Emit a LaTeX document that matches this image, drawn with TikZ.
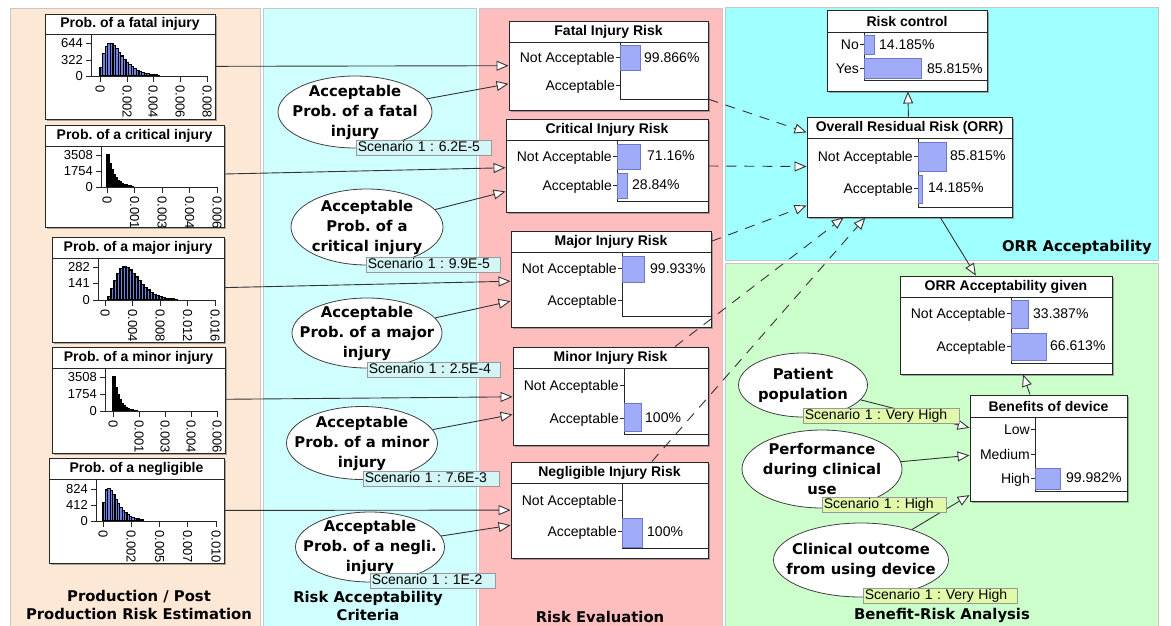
\documentclass[tikz,border=0pt]{standalone}
\usepackage{fontspec}
\setmainfont{Liberation Sans}
\newfontfamily\dejavu{DejaVu Sans}
\usetikzlibrary{arrows.meta,shapes.geometric,fit,shadows}

\definecolor{peach}{RGB}{253,232,214}
\definecolor{paleCyan}{RGB}{208,255,255}
\definecolor{rose}{RGB}{255,190,190}
\definecolor{aqua}{RGB}{160,255,255}
\definecolor{mint}{RGB}{204,255,204}
\definecolor{barblue}{RGB}{160,172,248}
\definecolor{barline}{RGB}{110,120,200}
\definecolor{histblue}{RGB}{110,130,225}
\definecolor{tagcyan}{RGB}{210,245,245}
\definecolor{taglime}{RGB}{225,250,170}

\tikzset{
  panel/.style={draw=black!22, line width=0.8pt},
  monbox/.style={draw=black!85, fill=white, line width=0.9pt, inner sep=0pt,
    drop shadow={shadow xshift=1.6pt, shadow yshift=-1.6pt, fill=black!55, opacity=0.6}},
  monline/.style={draw=black!85, line width=0.8pt},
  montitle/.style={font=\bfseries\fontsize{14}{16}\selectfont, inner sep=0pt},
  statelbl/.style={font=\fontsize{14}{16}\selectfont, inner sep=0pt, anchor=base east},
  vallbl/.style={font=\fontsize{14}{16}\selectfont, inner sep=0pt, anchor=base west},
  ticklbl/.style={font=\fontsize{13}{15}\selectfont, inner sep=0pt},
  pbar/.style={fill=barblue, draw=barline, line width=0.7pt},
  histbar/.style={fill=histblue, draw=black, line width=1.1pt, line join=miter},
  ellnode/.style={ellipse, draw=black!75, fill=white, line width=0.8pt, inner sep=0pt},
  elltext/.style={font=\dejavu\bfseries\fontsize{14.8}{20}\selectfont, align=center, inner sep=0pt},
  scen/.style={draw=black!40, line width=0.7pt, inner xsep=1.5pt, inner ysep=0.5pt,
    text height=10.5pt, text depth=3pt, font=\fontsize{14}{16}\selectfont,
    anchor=north west, align=left},
  scenc/.style={scen, fill=tagcyan},
  scenl/.style={scen, fill=taglime},
  edge/.style={draw=black!80, line width=0.9pt,
    -{Triangle[fill=white, length=12pt, width=10pt]}},
  dedge/.style={edge, dash pattern=on 10pt off 8pt},
  ptitle/.style={font=\dejavu\bfseries\fontsize{14.8}{18}\selectfont, align=center, inner sep=0pt},
}

% monitor window: name, x1, y1, x2, y2, title-band bottom, title
\newcommand\monitor[7]{%
  \path (#2,#3) coordinate (#1-nw) (#4,#5) coordinate (#1-se);
  \node[monbox, fit=(#1-nw)(#1-se)] (#1) {};
  \draw[monline] (#2,#6) -- (#4,#6);
  \node[montitle] (#1-title) at ({(#2+#4)/2},{(#3+#6)/2}) {#7};
}
% state row: axis x, y, text
\newcommand\staterow[3]{%
  \draw[monline] ({#1-4},#2) -- (#1,#2);
  \node[statelbl] at ({#1-5},{#2+5}) {#3};
}
\newcommand\pctbar[4]{\draw[pbar] (#1,#2) rectangle (#3,#4);}
\newcommand\pctval[3]{\node[vallbl] at (#1,{#2+5}) {#3};}
% histogram ticks
\newcommand\ytick[3]{%
  \draw[monline] ({#1-5},#2) -- (#1,#2);
  \node[ticklbl, anchor=east] at ({#1-8},#2) {#3};
}
\newcommand\xtick[3]{%
  \draw[monline] (#1,#2) -- (#1,{#2+6});
  \node[ticklbl, rotate=-90, anchor=west] at (#1,{#2+9}) {#3};
}
% skewed histogram: x0, baseline, peak height, mode, shape, bars, bar width
\newcommand\gammahist[7]{%
  \foreach \i in {0,...,#6}{%
    \pgfmathsetmacro\uu{(\i+0.5)*#7}%
    \pgfmathsetmacro\hh{#3*pow(\uu/#4,#5)*exp(max(-9,#5*(1-\uu/#4)))}%
    \ifdim\hh pt>0.6pt
      \filldraw[histbar] ({#1+\i*#7},#2) rectangle ++(#7,-\hh);
    \fi
  }%
}
% decaying histogram: x0, baseline, peak height, decay length, bars, bar width
\newcommand\exphist[6]{%
  \foreach \i in {0,...,#5}{%
    \pgfmathsetmacro\hh{#3*exp(max(-9,-\i*#6/#4))}%
    \ifdim\hh pt>0.6pt
      \filldraw[histbar] ({#1+\i*#6},#2) rectangle ++(#6,-\hh);
    \fi
  }%
}

\begin{document}
\frenchspacing
\begin{tikzpicture}[x=1pt, y=-1pt]
\useasboundingbox (0,0) rectangle (1171,625);
\fill[white] (0,0) rectangle (1171,625);

% ---------- panels ----------
\draw[panel, fill=peach] (10,8) rectangle (260,627);
\draw[panel, fill=paleCyan] (263,8) rectangle (476,627);
\draw[panel, fill=rose] (479,8) rectangle (722,627);
\draw[panel, fill=aqua] (725,7) rectangle (1158,260);
\draw[panel, fill=mint] (725,263) rectangle (1158,627);

\node[ptitle] (tprod) at (139,605) {Production / Post\\Production Risk Estimation};
\node[ptitle] (tcrit) at (368,606) {Risk Acceptability\\Criteria};
\node[ptitle] (teval) at (600,617) {Risk Evaluation};
\node[ptitle, anchor=east] (torr) at (1152,247) {ORR Acceptability};
\node[ptitle] (tbra) at (942,615) {Benefit-Risk Analysis};

% ---------- probability distributions ----------
\monitor{hfatal}{45}{14}{215}{119}{34}{Prob. of a fatal injury}
\gammahist{100}{76}{33}{10}{1.2}{22}{2.6}
\draw[monline] (91,34) -- (91,76) -- (207,76);
\ytick{91}{43}{644}\ytick{91}{60}{322}\ytick{91}{76}{0}
\xtick{100}{76}{0}\xtick{127}{76}{0.002}\xtick{153}{76}{0.004}\xtick{180}{76}{0.006}\xtick{207}{76}{0.008}

\monitor{hcrit}{45}{125}{224}{227}{146}{Prob. of a critical injury}
\exphist{107}{187}{32}{6.5}{16}{2}
\draw[monline] (101,146) -- (101,187) -- (217,187);
\ytick{101}{155}{3508}\ytick{101}{171}{1754}\ytick{101}{187}{0}
\xtick{107}{187}{0}\xtick{134.5}{187}{0.001}\xtick{162}{187}{0.003}\xtick{189.5}{187}{0.004}\xtick{217}{187}{0.006}

\monitor{hmajor}{52}{237}{224}{342}{258}{Prob. of a major injury}
\gammahist{105}{300}{33}{20}{3}{24}{3}
\draw[monline] (98,258) -- (98,300) -- (215,300);
\ytick{98}{267}{282}\ytick{98}{283.5}{141}\ytick{98}{300}{0}
\xtick{105}{300}{0}\xtick{132.5}{300}{0.004}\xtick{160}{300}{0.008}\xtick{187.5}{300}{0.012}\xtick{215}{300}{0.016}

\monitor{hminor}{52}{347}{225}{453}{368}{Prob. of a minor injury}
\exphist{113}{411}{34}{5.5}{16}{2}
\draw[monline] (105,368) -- (105,411) -- (217,411);
\ytick{105}{377}{3508}\ytick{105}{394}{1754}\ytick{105}{411}{0}
\xtick{113}{411}{0}\xtick{139}{411}{0.001}\xtick{165}{411}{0.003}\xtick{191}{411}{0.004}\xtick{217}{411}{0.006}

\monitor{hneg}{49}{458}{224}{563}{479}{Prob. of a negligible}
\gammahist{103}{521}{33}{5.5}{0.8}{16}{2.4}
\draw[monline] (96,479) -- (96,521) -- (216,521);
\ytick{96}{489}{824}\ytick{96}{505}{412}\ytick{96}{521}{0}
\xtick{103}{521}{0}\xtick{131}{521}{0.002}\xtick{159.5}{521}{0.005}\xtick{187.5}{521}{0.007}\xtick{216}{521}{0.010}

% ---------- acceptability criteria ----------
\node[ellnode, minimum width=154pt, minimum height=72pt,
  label={[elltext]center:{Acceptable\\Prob. of a fatal\\injury}}] (efatal) at (355,112) {};
\node[ellnode, minimum width=152pt, minimum height=76pt,
  label={[elltext]center:{Acceptable\\Prob. of a\\critical injury}}] (ecrit) at (367,227) {};
\node[ellnode, minimum width=150pt, minimum height=70pt,
  label={[elltext]center:{Acceptable\\Prob. of a major\\injury}}] (emajor) at (367,333) {};
\node[ellnode, minimum width=151pt, minimum height=73pt,
  label={[elltext]center:{Acceptable\\Prob. of a minor\\injury}}] (eminor) at (362,443) {};
\node[ellnode, minimum width=149pt, minimum height=70pt,
  label={[elltext]center:{Acceptable\\Prob. of a negli.\\injury}}] (eneg) at (370,547) {};

% ---------- risk evaluation ----------
\monitor{rfatal}{509}{21}{708}{110}{42}{Fatal Injury Risk}
\draw[monline] (620,42) -- (620,99) -- (708,99);
\staterow{620}{57}{Not Acceptable}\staterow{620}{85}{Acceptable}
\pctbar{620}{45}{640}{70}\pctval{644}{57}{99.866\%}

\monitor{rcrit}{506}{119}{708}{212}{140}{Critical Injury Risk}
\draw[monline] (617,140) -- (617,201) -- (708,201);
\staterow{617}{156}{Not Acceptable}\staterow{617}{185}{Acceptable}
\pctbar{617}{144}{640}{169}\pctval{647}{155}{71.16\%}
\pctbar{617}{173}{627}{198}\pctval{632}{184}{28.84\%}

\monitor{rmajor}{511}{231}{711}{327}{252}{Major Injury Risk}
\draw[monline] (622,252) -- (622,316) -- (711,316);
\staterow{622}{268}{Not Acceptable}\staterow{622}{300}{Acceptable}
\pctbar{622}{256}{644}{282}\pctval{650}{268}{99.933\%}

\monitor{rminor}{513}{347}{708}{445}{368}{Minor Injury Risk}
\draw[monline] (624,368) -- (624,434) -- (708,434);
\staterow{624}{385}{Not Acceptable}\staterow{624}{418}{Acceptable}
\pctbar{624}{403}{641}{431}\pctval{645}{417}{100\%}

\monitor{rneg}{511}{462}{708}{558}{483}{Negligible Injury Risk}
\draw[monline] (622,483) -- (622,548) -- (708,548);
\staterow{622}{500}{Not Acceptable}\staterow{622}{531}{Acceptable}
\pctbar{622}{518}{642}{547}\pctval{647}{531}{100\%}

% ---------- ORR acceptability ----------
\monitor{rctrl}{827}{10}{987}{91}{32}{Risk control}
\draw[monline] (864,32) -- (864,80) -- (987,80);
\staterow{864}{44}{No}\staterow{864}{68}{Yes}
\pctbar{864}{35}{874}{54}\pctval{879}{44}{14.185\%}
\pctbar{864}{58}{921}{78}\pctval{927}{68}{85.815\%}

\monitor{orr}{807}{117}{1012}{217}{138}{Overall Residual Risk (ORR)}
\draw[monline] (918,138) -- (918,207) -- (1012,207);
\staterow{918}{156}{Not Acceptable}\staterow{918}{188}{Acceptable}
\pctbar{918}{142}{946}{171}\pctval{950}{155}{85.815\%}
\pctbar{918}{175}{922}{203}\pctval{928}{187}{14.185\%}

% ---------- benefit-risk analysis ----------
\monitor{orracc}{900}{276}{1112}{374}{297}{ORR Acceptability given}
\draw[monline] (1011,297) -- (1011,363) -- (1112,363);
\staterow{1011}{313}{Not Acceptable}\staterow{1011}{346}{Acceptable}
\pctbar{1011}{300}{1028}{328}\pctval{1033}{313}{33.387\%}
\pctbar{1011}{333}{1046}{360}\pctval{1050}{345}{66.613\%}

\monitor{benefit}{970}{395}{1127}{501}{417}{Benefits of device}
\draw[monline] (1035,417) -- (1035,491) -- (1127,491);
\staterow{1035}{429}{Low}\staterow{1035}{454}{Medium}\staterow{1035}{478}{High}
\pctbar{1035}{468}{1060}{489}\pctval{1066}{477}{99.982\%}

\node[ellnode, minimum width=129pt, minimum height=64pt,
  label={[elltext]center:{Patient\\population}}] (epat) at (803,385) {};
\node[ellnode, minimum width=160pt, minimum height=78pt,
  label={[elltext]center:{Performance\\during clinical\\use}}] (eperf) at (822,469) {};
\node[ellnode, minimum width=175pt, minimum height=74pt,
  label={[elltext]center:{Clinical outcome\\from using device}}] (eclin) at (861,560) {};

% ---------- links ----------
\draw[edge] (hfatal) -- (rfatal);
\draw[edge] (efatal) -- (rfatal);
\draw[edge] (hcrit) -- (rcrit);
\draw[edge] (ecrit) -- (rcrit);
\draw[edge] (hmajor) -- (rmajor);
\draw[edge] (emajor) -- (rmajor);
\draw[edge] (hminor) -- (rminor);
\draw[edge] (eminor) -- (rminor);
\draw[edge] (hneg) -- (rneg);
\draw[edge] (eneg) -- (rneg);

\draw[dedge] (rfatal) -- (orr);
\draw[dedge] (rcrit) -- (orr);
\draw[dedge] (rmajor) -- (orr);
\draw[dedge] (rminor) -- (orr);
\draw[dedge] (rneg) -- (orr);

\draw[edge] (orr) -- (rctrl);
\draw[edge] (orr) -- (orracc);
\draw[edge] (benefit) -- (orracc);
\draw[edge] (epat) -- (benefit);
\draw[edge] (eperf) -- (benefit);
\draw[edge] (eclin) -- (benefit);

% ---------- scenario values ----------
\node[scenc, text width=132pt] (sfatal) at (356,140) {Scenario 1 : 6.2E-5};
\node[scenc, text width=131pt] (scrit) at (366,257) {Scenario 1 : 9.9E-5};
\node[scenc, text width=130pt] (smajor) at (367,362) {Scenario 1 : 2.5E-4};
\node[scenc, text width=133pt] (sminor) at (363,471) {Scenario 1 : 7.6E-3};
\node[scenc, text width=122pt] (sneg) at (370,573) {Scenario 1 : 1E-2};
\node[scenl, text width=153pt] (spat) at (803,408) {Scenario 1 : Very High};
\node[scenl, text width=121pt] (sperf) at (822,497) {Scenario 1 : High};
\node[scenl, text width=151pt] (sclin) at (863,588) {Scenario 1 : Very High};
\end{tikzpicture}
\end{document}
